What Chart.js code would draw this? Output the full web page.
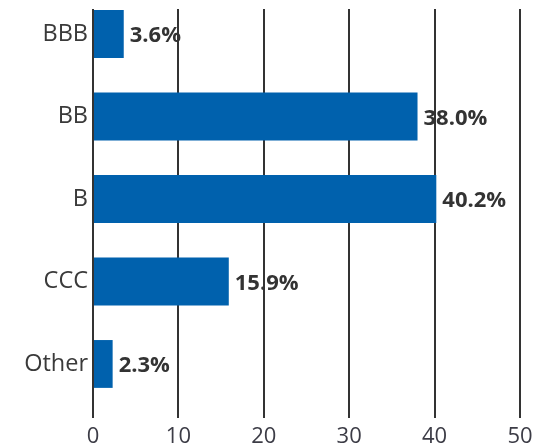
<!DOCTYPE html>
<html>
<head>
<meta charset="utf-8">
<script src="https://cdn.jsdelivr.net/npm/chart.js@4"></script>
<style>
  body { margin: 0; background: #fff; }
  #box { width: 539px; height: 446px; }
</style>
</head>
<body>
<div id="box"><canvas id="grafico"></canvas></div>
<script>
// categorias e valores (%)
const categorias = ['BBB', 'BB', 'B', 'CCC', 'Other'];
const valores = [3.6, 38.0, 40.2, 15.9, 2.3];
const ticksX = [0, 10, 20, 30, 40, 50];

const azul = '#0061ad';
const fonte = "'Open Sans', 'Noto Sans', sans-serif";

// escreve o valor na ponta de cada barra
const rotulosBarras = {
    id: 'rotulosBarras',
    afterDatasetsDraw(chart) {
        const ctx = chart.ctx;
        const meta = chart.getDatasetMeta(0);
        ctx.save();
        ctx.font = 'bold 22px ' + fonte;
        ctx.fillStyle = '#333333';
        ctx.textAlign = 'left';
        ctx.textBaseline = 'middle';
        meta.data.forEach((barra, i) => {
            ctx.fillText(valores[i].toFixed(1) + '%', barra.x + 6, barra.y + 2);
        });
        ctx.restore();
    }
};

new Chart(document.getElementById('grafico').getContext('2d'), {
    type: 'bar',
    data: {
        datasets: [{
            data: valores.map((v, i) => ({ x: v, y: i })),
            backgroundColor: azul,
            borderWidth: 0,
            categoryPercentage: 1,
            barPercentage: 0.58
        }]
    },
    options: {
        indexAxis: 'y',
        responsive: true,
        maintainAspectRatio: false,
        animation: false,
        layout: { padding: { top: 9, right: 19, left: 0, bottom: 0 } },
        plugins: { legend: { display: false }, tooltip: { enabled: false } },
        scales: {
            x: {
                type: 'linear',
                position: 'bottom',
                min: ticksX[0],
                max: ticksX[ticksX.length - 1],
                afterBuildTicks: (eixo) => { eixo.ticks = ticksX.map(v => ({ value: v })); },
                grid: { color: '#333333', lineWidth: 2, drawTicks: false },
                border: { display: false },
                ticks: {
                    padding: 6,
                    color: '#3c3c46',
                    font: { family: fonte, size: 22 }
                },
                afterFit: (eixo) => { eixo.height = 28; }
            },
            y: {
                type: 'linear',
                reverse: true,
                bounds: 'data',
                offset: false,
                min: -0.303,
                max: 4.655,
                afterBuildTicks: (eixo) => { eixo.ticks = categorias.map((c, i) => ({ value: i })); },
                grid: { display: false, drawTicks: false },
                border: { display: false },
                ticks: {
                    autoSkip: false,
                    padding: 5,
                    color: '#3a3a3a',
                    font: { family: fonte, size: 23.5 },
                    callback: (v) => categorias[v] !== undefined ? categorias[v] : ''
                },
                afterFit: (eixo) => {
                    eixo.width = 93;
                    eixo.paddingTop = 0;
                    eixo.paddingBottom = 0;
                }
            }
        }
    },
    plugins: [rotulosBarras]
});
</script>
</body>
</html>
